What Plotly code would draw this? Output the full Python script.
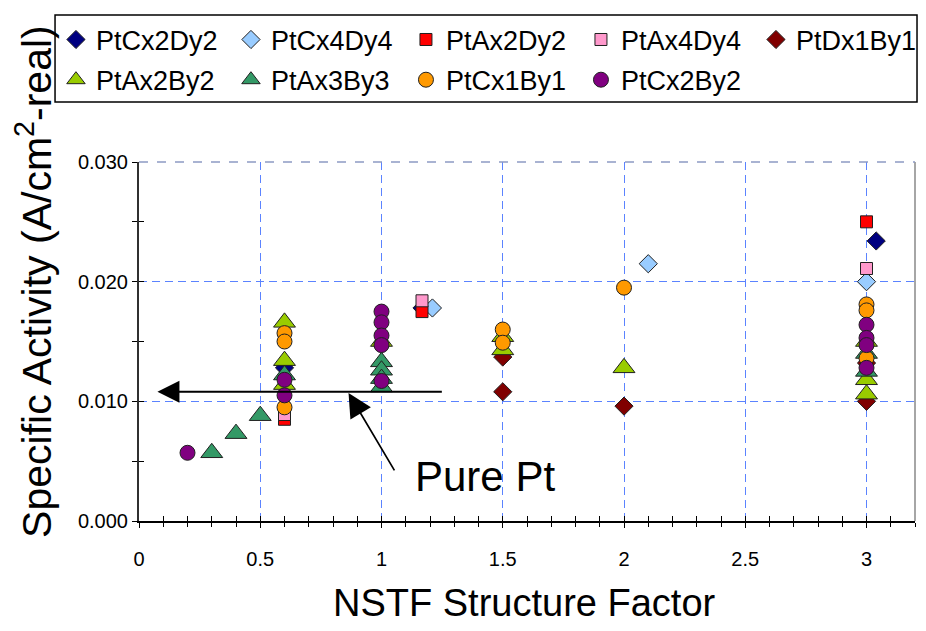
#scatter of specific activity vs NSTF structure factor, one trace per catalyst
import plotly.graph_objects as go

# series values (x = structure factor, y = A/cm2-real)
PtCx2Dy2_x = [0.6, 1.167, 3.04]
PtCx2Dy2_y = [0.0128, 0.0178, 0.0234]

PtCx4Dy4_x = [1.21, 2.1, 3.0]
PtCx4Dy4_y = [0.0178, 0.0215, 0.0200]

PtAx2Dy2_x = [0.6, 1.167, 3.0]
PtAx2Dy2_y = [0.0085, 0.0175, 0.0250]

PtAx4Dy4_x = [0.6, 1.167, 3.0]
PtAx4Dy4_y = [0.0089, 0.0184, 0.0211]

PtDx1By1_x = [1.5, 1.5, 2.0, 3.0, 3.0]
PtDx1By1_y = [0.0137, 0.0108, 0.0096, 0.0100, 0.0132]

PtAx2By2_x = [0.6, 0.6, 0.6, 1.0, 1.5, 1.5, 2.0, 3.0, 3.0, 3.0]
PtAx2By2_y = [0.0166, 0.0134, 0.0114, 0.0150, 0.0154, 0.0143, 0.0128, 0.0118, 0.0106, 0.0150]

PtAx3By3_x = [0.3, 0.4, 0.5, 0.6, 1.0, 1.0, 1.0, 1.0, 3.0, 3.0]
PtAx3By3_y = [0.0057, 0.0073, 0.0088, 0.0122, 0.0133, 0.0126, 0.0119, 0.0112, 0.0140, 0.0125]

PtCx1By1_x = [0.6, 0.6, 0.6, 1.5, 1.5, 2.0, 3.0, 3.0, 3.0]
PtCx1By1_y = [0.0157, 0.0150, 0.0095, 0.0160, 0.0149, 0.0195, 0.0181, 0.0176, 0.0136]

PtCx2By2_x = [0.2, 0.6, 0.6, 1.0, 1.0, 1.0, 1.0, 1.0, 3.0, 3.0, 3.0, 3.0]
PtCx2By2_y = [0.0057, 0.0118, 0.0105, 0.0175, 0.0166, 0.0155, 0.0147, 0.0117, 0.0164, 0.0153, 0.0147, 0.0128]

x_ticks = [0, 0.5, 1, 1.5, 2, 2.5, 3]
x_tick_labels = ["0", "0.5", "1", "1.5", "2", "2.5", "3"]
y_ticks = [0.0, 0.01, 0.02, 0.03]
y_tick_labels = ["0.000", "0.010", "0.020", "0.030"]

FONT = "Arial, Liberation Sans, sans-serif"
GRID = "#5b83ff"
GRID_DASH = "8px,5px"

# name, x, y, symbol, colour, size, legend row
series = [
    ("PtCx2Dy2", PtCx2Dy2_x, PtCx2Dy2_y, "diamond", "#000080", 14, "legend"),
    ("PtCx4Dy4", PtCx4Dy4_x, PtCx4Dy4_y, "diamond", "#99ccff", 14, "legend"),
    ("PtAx2Dy2", PtAx2Dy2_x, PtAx2Dy2_y, "square", "#ff0000", 12, "legend"),
    ("PtAx4Dy4", PtAx4Dy4_x, PtAx4Dy4_y, "square", "#ff99cc", 12, "legend"),
    ("PtDx1By1", PtDx1By1_x, PtDx1By1_y, "diamond", "#800000", 14, "legend"),
    ("PtAx2By2", PtAx2By2_x, PtAx2By2_y, "triangle-up", "#99cc00", 19, "legend2"),
    ("PtAx3By3", PtAx3By3_x, PtAx3By3_y, "triangle-up", "#339966", 19, "legend2"),
    ("PtCx1By1", PtCx1By1_x, PtCx1By1_y, "circle", "#ff9900", 15, "legend2"),
    ("PtCx2By2", PtCx2By2_x, PtCx2By2_y, "circle", "#800080", 15, "legend2"),
]


def plot_graph():
    fig = go.Figure()
    for name, xs, ys, symbol, colour, size, leg in series:
        fig.add_trace(
            go.Scatter(
                x=xs,
                y=ys,
                mode="markers",
                name=name,
                legend=leg,
                marker=dict(symbol=symbol, color=colour, size=size,
                            line=dict(color="#202020", width=1)),
            )
        )

    # empty trace on overlay axes, just to get the inside half of the cross ticks
    fig.add_trace(go.Scatter(x=[None], y=[None], xaxis="x2", yaxis="y2",
                             showlegend=False, hoverinfo="skip"))

    # page body has an 8px margin, so the figure is a bit smaller than the window
    fig.update_layout(
        width=910,
        height=615,
        margin=dict(l=131, r=3, t=154, b=102, autoexpand=False),
        plot_bgcolor="white",
        paper_bgcolor="white",
        font=dict(family=FONT, color="black"),
        xaxis=dict(
            range=[0, 3.2],
            tickvals=x_ticks,
            ticktext=x_tick_labels,
            tickfont=dict(size=20),
            ticks="outside",
            ticklen=5,
            tickcolor="black",
            ticklabelstandoff=14,
            minor=dict(dtick=0.1, ticks="outside", ticklen=4, tickcolor="black", showgrid=False),
            showline=True,
            linecolor="black",
            linewidth=2,
            showgrid=True,
            gridcolor=GRID,
            griddash=GRID_DASH,
            gridwidth=1,
            zeroline=False,
        ),
        yaxis=dict(
            range=[0, 0.03],
            tickvals=y_ticks,
            ticktext=y_tick_labels,
            tickfont=dict(size=20),
            ticks="outside",
            ticklen=5,
            tickcolor="black",
            minor=dict(dtick=0.005, ticks="outside", ticklen=5, tickcolor="black", showgrid=False),
            showline=True,
            linecolor="#303030",
            linewidth=2,
            showgrid=True,
            gridcolor=GRID,
            griddash=GRID_DASH,
            gridwidth=1,
            zeroline=False,
        ),
        xaxis2=dict(
            overlaying="x", anchor="y2", side="bottom", range=[0, 3.2],
            tickvals=x_ticks, showticklabels=False, ticks="inside", ticklen=5,
            tickcolor="black",
            minor=dict(dtick=0.1, ticks="inside", ticklen=5, tickcolor="black"),
            showgrid=False, zeroline=False, showline=False,
        ),
        yaxis2=dict(
            overlaying="y", anchor="x2", side="left", range=[0, 0.03],
            tickvals=y_ticks, showticklabels=False, ticks="inside", ticklen=5,
            tickcolor="black",
            minor=dict(dtick=0.005, ticks="inside", ticklen=5, tickcolor="black"),
            showgrid=False, zeroline=False, showline=False,
        ),
        legend=dict(
            orientation="h",
            x=-0.107, y=1.34, xanchor="left", yanchor="middle",
            entrywidth=130, entrywidthmode="pixels",
            font=dict(size=27, family=FONT),
            bgcolor="rgba(0,0,0,0)",
        ),
        legend2=dict(
            orientation="h",
            x=-0.107, y=1.228, xanchor="left", yanchor="middle",
            entrywidth=130, entrywidthmode="pixels",
            font=dict(size=27, family=FONT),
            bgcolor="rgba(0,0,0,0)",
        ),
    )

    # box round both legend rows, grey right border, dashed top edge
    fig.add_shape(type="rect", xref="paper", yref="paper",
                  x0=-0.1082, x1=1.0026, y0=1.167, y1=1.4095,
                  line=dict(color="black", width=1.5), fillcolor="rgba(0,0,0,0)")
    fig.add_shape(type="line", xref="paper", yref="paper",
                  x0=1, x1=1, y0=0, y1=1, line=dict(color="#a6a6a6", width=2))
    fig.add_shape(type="line", xref="paper", yref="paper",
                  x0=0, x1=1, y0=1, y1=1, line=dict(color="#8d9bc4", width=1.5, dash="dash"))

    # axis titles as annotations so they sit where the original has them
    fig.add_annotation(text="Specific Activity (A/cm<sup>2</sup>-real)",
                       xref="paper", yref="paper", x=-0.1353, y=0.666,
                       xanchor="center", yanchor="middle",
                       textangle=-90, showarrow=False,
                       font=dict(size=41, family=FONT, color="black"))
    fig.add_annotation(text="NSTF Structure Factor",
                       xref="paper", yref="paper", x=0.497, y=-0.229,
                       xanchor="center", yanchor="middle",
                       showarrow=False, font=dict(size=38, family=FONT, color="black"))

    # pure Pt marker line and label
    fig.add_annotation(text="", x=0.076, y=0.0108, ax=1.255, ay=0.0108,
                       xref="x", yref="y", axref="x", ayref="y",
                       showarrow=True, arrowhead=2, arrowsize=2, arrowwidth=2.2,
                       arrowcolor="black")
    fig.add_annotation(text="", x=0.864, y=0.0107, ax=1.057, ay=0.0041,
                       xref="x", yref="y", axref="x", ayref="y",
                       showarrow=True, arrowhead=2, arrowsize=2.8, arrowwidth=1.7,
                       arrowcolor="black")
    fig.add_annotation(text="Pure Pt", x=1.428, y=0.0037, xref="x", yref="y",
                       xanchor="center", yanchor="middle",
                       showarrow=False, font=dict(size=42, family=FONT, color="black"))
    return fig


fig = plot_graph()
fig.write_html("out.html")
